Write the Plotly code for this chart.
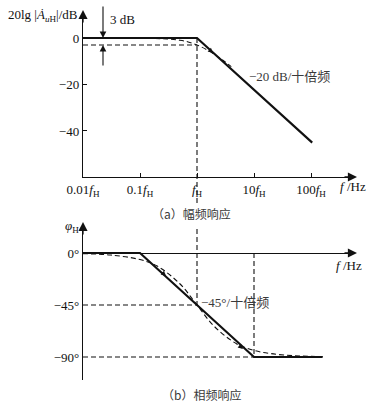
import math
import plotly.graph_objects as go

W, H = 378, 417

# ---- data (frequency in units of fH) ----
mag_f = [0.01, 1, 105]                      # asymptotic magnitude
mag_db = [0, 0, -45]
mag_true_f = [0.01, 0.3, 0.5, 0.7, 1, 1.5, 2, 3, 4]   # actual magnitude
mag_true_db = [0, -0.4, -1.0, -1.7, -3, -5.1, -7.0, -10.0, -12.3]
phase_f = [0.01, 0.1, 10, 160]               # asymptotic phase
phase_deg = [0, 0, -90, -90]
phase_true_f = [0.01, 0.03, 0.1, 0.2, 0.5, 1, 2, 5, 10, 20, 50, 160]
phase_true_deg = [-0.6, -1.7, -5.7, -11.3, -26.6, -45, -63.4, -78.7, -84.3, -87.1, -88.9, -89.6]

x_ticks = [0.01, 0.1, 1, 10, 100]
x_ticktext = ["0.01<i>f</i><sub>H</sub>", "0.1<i>f</i><sub>H</sub>", "<i>f</i><sub>H</sub>",
              "10<i>f</i><sub>H</sub>", "100<i>f</i><sub>H</sub>"]
mag_ticks = [0, -20, -40]
mag_ticktext = ["0", "\u221220", "\u221240"]
phase_ticks = [0, -45, -90]
phase_ticktext = ["0°", "\u221245°", "\u221290°"]

corner_db = -3
corner_deg = -45
f_H = 1
f_10H = 10

# ---- geometry ----
XL, XR = 83, 352
DEC = 57.0
X_DOM = [XL / W, XR / W]
X_RANGE = [-2, -2 + (XR - XL) / DEC]
Y1_DOM = [1 - 177 / H, 1 - 13 / H]
Y1_RANGE = [-59.8, 10.75]
Y2_DOM = [1 - 380 / H, 1 - 224 / H]
Y2_RANGE = [-109.9, 25.1]


def xp(f):
    t = (math.log10(f) - X_RANGE[0]) / (X_RANGE[1] - X_RANGE[0])
    return X_DOM[0] + t * (X_DOM[1] - X_DOM[0])


def yp(v, dom, rng):
    t = (v - rng[0]) / (rng[1] - rng[0])
    return dom[0] + t * (dom[1] - dom[0])


def px(x):
    return x / W


def py(y):
    return 1 - y / H


SERIF = "Liberation Serif, Times New Roman, serif"
CJK = "Liberation Serif, Noto Sans CJK SC, serif"
INK = "#111"
SOFT = "#3a3a3a"
DASH = "5px,3px"

fig = go.Figure()

# magnitude plot
fig.add_trace(go.Scatter(x=[mag_true_f[0], f_H], y=[corner_db, corner_db], xaxis="x", yaxis="y",
                         mode="lines", line=dict(color=INK, width=1.1, dash=DASH)))
fig.add_trace(go.Scatter(x=mag_true_f, y=mag_true_db, xaxis="x", yaxis="y", mode="lines",
                         line=dict(color=INK, width=1.1, dash=DASH, shape="spline")))
fig.add_trace(go.Scatter(x=mag_f, y=mag_db, xaxis="x", yaxis="y", mode="lines",
                         line=dict(color=INK, width=2.2)))

# phase plot
fig.add_trace(go.Scatter(x=[phase_true_f[0], f_H], y=[corner_deg, corner_deg], xaxis="x2", yaxis="y2",
                         mode="lines", line=dict(color=INK, width=1.1, dash=DASH)))
fig.add_trace(go.Scatter(x=[phase_true_f[0], f_10H], y=[-90, -90], xaxis="x2", yaxis="y2",
                         mode="lines", line=dict(color=INK, width=1.1, dash=DASH)))
fig.add_trace(go.Scatter(x=[f_10H, f_10H], y=[0, -90], xaxis="x2", yaxis="y2",
                         mode="lines", line=dict(color=INK, width=1.1, dash=DASH)))
fig.add_trace(go.Scatter(x=phase_true_f, y=phase_true_deg, xaxis="x2", yaxis="y2", mode="lines",
                         line=dict(color=INK, width=1.1, dash=DASH, shape="spline")))
fig.add_trace(go.Scatter(x=phase_f, y=phase_deg, xaxis="x2", yaxis="y2", mode="lines",
                         line=dict(color=INK, width=2.2)))

# vertical guide at fH running through both plots
shapes = [
    dict(type="line", xref="paper", yref="paper", x0=xp(f_H), x1=xp(f_H),
         y0=yp(0, Y1_DOM, Y1_RANGE), y1=py(206), line=dict(color=INK, width=1.1, dash=DASH)),
    dict(type="line", xref="paper", yref="paper", x0=xp(f_H), x1=xp(f_H),
         y0=py(229), y1=yp(corner_deg, Y2_DOM, Y2_RANGE), line=dict(color=INK, width=1.1, dash=DASH)),
]


def arrow(x_tip, y_tip, ax, ay, width=1.3, size=1.4):
    return dict(xref="paper", yref="paper", x=px(x_tip), y=py(y_tip), ax=ax, ay=ay,
                text="", showarrow=True, arrowhead=2, arrowsize=size, arrowwidth=width,
                arrowcolor=INK, standoff=0, startstandoff=0)


def label(x, y, text, xanchor="left", size=13, font=SERIF, color=INK):
    return dict(xref="paper", yref="paper", x=px(x), y=py(y), text=text, showarrow=False,
                xanchor=xanchor, yanchor="middle", font=dict(family=font, size=size, color=color))


zero_deg_px = (1 - yp(0, Y2_DOM, Y2_RANGE)) * H

annotations = [
    # axis arrows
    arrow(XR + 5, 177, -14, 0),
    arrow(83, 10, 0, 14),
    arrow(XR + 5, zero_deg_px, -14, 0),
    arrow(83, 222, 0, 14),
    # 3 dB markers
    arrow(103, 38, 0, -33, width=1.1, size=1.2),
    arrow(103, 45, 0, 22, width=1.1, size=1.2),
    label(108, 19, "3 dB"),
    # small direction marks on the sloped asymptotes
    arrow(213, 53, -5, -4.5, width=1.0, size=1.0),
    arrow(166, 276, -5, -4.5, width=1.0, size=1.0),
    arrow(243, 349, -5, -4.5, width=1.0, size=1.0),
    # axis titles
    label(80, 16, "20lg |<i>\u0226</i><sub><i>u</i>H</sub>|/dB", xanchor="right"),
    label(81, 227, "<i>\u03c6</i><sub>H</sub>", xanchor="right"),
    label(338, 186, "<i>f</i> /Hz"),
    label(334, 265, "<i>f</i> /Hz"),
    # slope labels
    label(247, 77, "\u221220 dB/十倍频", font=CJK, color=SOFT),
    label(199, 302, "\u221245°/十倍频", font=CJK, color=SOFT),
    # captions
    label(191, 213, "（a）幅频响应", xanchor="center", size=12, font="Noto Sans CJK SC", color=SOFT),
    label(201, 394, "（b）相频响应", xanchor="center", size=12, font="Noto Sans CJK SC", color=SOFT),
]

axis_common = dict(showgrid=False, zeroline=False, linecolor=INK, linewidth=1.4, automargin=False,
                   tickfont=dict(family=SERIF, size=13, color=INK))

fig.update_layout(
    width=W, height=H,
    margin=dict(l=0, r=0, t=0, b=0, autoexpand=False),
    paper_bgcolor="white", plot_bgcolor="white",
    showlegend=False,
    xaxis=dict(type="log", domain=X_DOM, range=X_RANGE, anchor="y", showline=True,
               tickmode="array", tickvals=x_ticks, ticktext=x_ticktext,
               ticks="inside", ticklen=4, tickcolor=INK, tickwidth=1.2, **axis_common),
    yaxis=dict(domain=Y1_DOM, range=Y1_RANGE, anchor="x", showline=True,
               tickmode="array", tickvals=mag_ticks, ticktext=mag_ticktext,
               ticks="inside", ticklen=4, tickcolor=INK, tickwidth=1.2, **axis_common),
    xaxis2=dict(type="log", domain=X_DOM, range=X_RANGE, anchor="y2", showline=False,
                showticklabels=False, ticks="", showgrid=False, zeroline=False, automargin=False),
    yaxis2=dict(domain=Y2_DOM, range=Y2_RANGE, anchor="x2", showline=True,
                tickmode="array", tickvals=phase_ticks, ticktext=phase_ticktext, ticks="",
                showgrid=False, zeroline=True, zerolinecolor=INK, zerolinewidth=1.4,
                linecolor=INK, linewidth=1.4, automargin=False,
                tickfont=dict(family=SERIF, size=13, color=INK)),
    shapes=shapes,
    annotations=annotations,
)

fig.write_html("out.html")
